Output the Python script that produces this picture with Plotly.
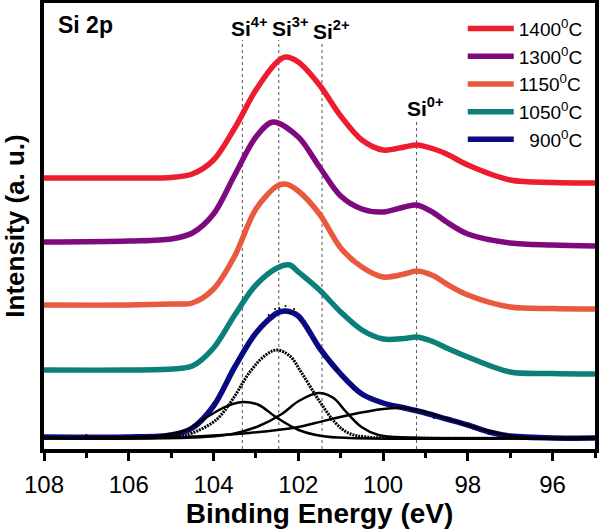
"""
Si 2p XPS spectra for different annealing temperatures
"""
import plotly.graph_objects as go

# spectra (binding energy in eV, intensity in a.u.)
temps = ["1400", "1300", "1150", "1050", "900"]
colors = ["#ED1C2E", "#7F0A80", "#E8593D", "#0B8079", "#0A0A85"]

e_1400 = [108, 106, 105, 104.5, 104, 103.5, 103, 102.5, 102.3, 102, 101.5, 101,
          100.5, 100, 99.5, 99.2, 98.8, 98.5, 98, 97, 96, 95]
i_1400 = [271, 271, 271.5, 275, 289, 321, 359, 387, 392, 387, 364, 333,
          309, 299, 302, 304, 300, 295, 284, 269, 266.5, 266]

e_1300 = [108, 106, 105, 104.5, 104, 103.5, 103, 102.6, 102, 101.5, 101,
          100.5, 100, 99.5, 99.2, 98.8, 98.5, 98, 97, 96, 95]
i_1300 = [207, 208, 210, 216, 235, 274, 312, 327, 312, 282, 253,
          240, 237, 242, 244, 236, 227, 215, 206, 204, 203]

e_1150 = [108, 106, 105, 104.5, 104, 103.5, 103, 102.5, 102.3, 102, 101.5, 101,
          100.5, 100, 99.5, 99.2, 98.8, 98.5, 98, 97, 96, 95]
i_1150 = [144, 144, 145, 146, 160, 193, 240, 263, 265, 258, 235, 201,
          182, 172, 175, 178, 173, 165, 154, 142, 140.5, 140]

e_1050 = [108, 106, 105, 104.5, 104, 103.5, 103, 102.5, 102.2, 102, 101.5, 101,
          100.5, 100, 99.5, 99.2, 98.8, 98.5, 98, 97, 96, 95]
i_1050 = [79, 79, 80, 83, 101, 134, 164, 181, 184, 177, 159, 137,
          119, 110, 110.5, 112, 107, 101, 92, 77, 75.5, 75]

e_900 = [108, 106, 105, 104.5, 104, 103.5, 103, 102.5, 102.3, 102, 101.5, 101,
         100.5, 100, 99.5, 99, 98.5, 98, 97.5, 97, 96, 95]
i_900 = [12, 12, 14, 21, 43, 82, 116, 136, 138, 133, 101, 75,
         55, 46, 41, 36, 30, 24, 17, 13, 11, 11]

# raw data points of the 900 C spectrum
raw_e = [107.0, 104.4, 104.0, 103.7, 103.4, 103.2, 102.9, 102.7, 102.55, 102.45,
         102.3, 102.2, 102.1, 101.95, 101.8, 101.6, 101.3, 101.1, 100.7, 100.3,
         99.8, 99.5, 98.8, 97.5, 96.5]
raw_i = [14, 23, 46, 66, 90, 103, 123, 134, 140, 141,
         143, 136, 140, 129, 121, 110, 88, 80, 60, 52,
         44, 43, 31, 16, 10]

# fitted components of the 900 C spectrum
e_si4 = [108, 106, 105.3, 104.64, 104.34, 103.87, 103.55, 103.28, 102.93, 102.53,
         101.99, 101.45, 100.8, 95]
i_si4 = [11, 11.5, 13, 19, 27, 39, 45, 47, 44, 32, 19, 13, 11, 11]

e_si3 = [108, 105.5, 104.8, 104.5, 103.94, 103.56, 103.16, 102.8, 102.51, 102.2,
         101.92, 101.52, 101.12, 100.82, 100.4, 99.5, 95]
i_si3 = [11, 11.5, 13, 16, 29, 49, 76, 93, 99, 93, 76, 49, 26, 16, 12, 11, 11]

e_si2 = [108, 104.5, 103.56, 102.93, 102.39, 101.99, 101.52, 101.17, 100.89,
         100.51, 100.11, 99.71, 99, 95]
i_si2 = [11, 11.5, 15, 23, 35, 48, 56, 51, 38, 22, 14, 12, 11, 11]

e_si0 = [108, 106, 104.74, 103.16, 102.0, 101.6, 100.8, 100.0, 99.6, 99.2, 98.4,
         97.6, 96.8, 95.9, 95]
i_si0 = [11, 11.5, 12, 16, 22, 26, 34, 40, 41, 39, 29, 19, 12, 11, 11]

# chemical states: position (eV) and height of the marker line
states = ["4+", "3+", "2+", "0+"]
state_e = [103.32, 102.46, 101.44, 99.21]
state_top = [409, 409, 406, 329]
label_shift = [7, 12, 9, 9]

FONT = "Liberation Sans, Arial, sans-serif"

fig = go.Figure()

# dashed reference lines
for e, top in zip(state_e, state_top):
    fig.add_trace(go.Scatter(
        x=[e, e], y=[0, top], mode="lines",
        line={"color": "#555555", "width": 1, "dash": "3px,3px"},
        showlegend=False, hoverinfo="skip"
    ))

spectra = [(e_1400, i_1400), (e_1300, i_1300), (e_1150, i_1150),
           (e_1050, i_1050), (e_900, i_900)]
for (e, i), t, c in zip(spectra, temps, colors):
    name = "{}<sup>0</sup>C".format(t)
    if len(t) == 3:
        name = "\u2007" + name
    fig.add_trace(go.Scatter(
        x=e, y=i, mode="lines", name=name, legendgroup=t,
        line={"color": c, "width": 5.5, "shape": "spline", "smoothing": 0.9}
    ))

fig.add_trace(go.Scatter(
    x=raw_e, y=raw_i, mode="markers",
    marker={"color": "black", "size": 2},
    showlegend=False
))

for e, i in [(e_si4, i_si4), (e_si2, i_si2), (e_si0, i_si0)]:
    fig.add_trace(go.Scatter(
        x=e, y=i, mode="lines",
        line={"color": "black", "width": 2.5, "shape": "spline"},
        showlegend=False
    ))

fig.add_trace(go.Scatter(
    x=e_si3, y=i_si3, mode="lines",
    line={"color": "black", "width": 3, "shape": "spline", "dash": "2px,1px"},
    showlegend=False
))

for s, e, top, dx in zip(states, state_e, state_top, label_shift):
    fig.add_annotation(
        x=e, y=top, xshift=dx, yshift=-2, yanchor="bottom", showarrow=False,
        text="<b>Si<sup>{}</sup></b>".format(s),
        font={"family": FONT, "size": 21, "color": "black"}
    )

fig.add_annotation(
    x=0.022, y=0.985, xref="paper", yref="paper", xanchor="left", yanchor="top",
    showarrow=False, text="<b>Si 2p</b>",
    font={"family": FONT, "size": 23, "color": "black"}
)

fig.update_layout(
    width=600, height=531,
    margin={"l": 44, "r": 5, "t": 3, "b": 82},
    plot_bgcolor="white", paper_bgcolor="white",
    font={"family": FONT, "color": "black"},
    legend={"x": 0.76, "y": 0.985, "xanchor": "left", "yanchor": "top",
            "bgcolor": "rgba(0,0,0,0)", "font": {"size": 19},
            "tracegroupgap": 0, "itemwidth": 46},
    showlegend=True
)

fig.update_xaxes(
    range=[108, 95], dtick=2, tick0=0, automargin=False,
    ticks="outside", ticklen=8, tickwidth=3, tickcolor="black",
    ticklabelstandoff=3,
    minor={"ticks": "outside", "ticklen": 5, "tickwidth": 2.5, "dtick": 1,
           "tick0": 0, "tickcolor": "black"},
    showline=True, linewidth=4, linecolor="black", mirror=True,
    showgrid=False, zeroline=False,
    tickfont={"size": 24},
    title={"text": "Binding Energy (eV)", "standoff": 0,
           "font": {"size": 28, "weight": "bold"}}
)

fig.update_yaxes(
    range=[0, 446], showticklabels=False, ticks="", automargin=False,
    showline=True, linewidth=4, linecolor="black", mirror=True,
    showgrid=False, zeroline=False,
    title={"text": "Intensity (a. u.)", "standoff": 12,
           "font": {"size": 26, "weight": "bold"}}
)

# the page's default body margin would push the figure off the window
fig.write_html("out.html", config={"displayModeBar": False},
               post_script="document.body.style.margin = '0';")
